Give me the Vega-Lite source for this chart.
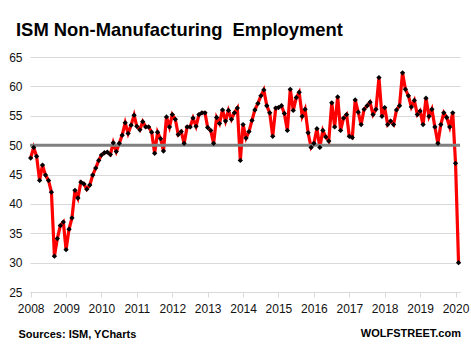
{
  "$schema": "https://vega.github.io/schema/vega-lite/v6.json",
  "width": 430,
  "height": 235,
  "autosize": {"type": "none"},
  "padding": {"left": 30, "top": 57, "right": 11, "bottom": 59},
  "background": "white",
  "title": {
    "text": "ISM Non-Manufacturing\u00a0 Employment",
    "anchor": "start",
    "frame": "group",
    "dx": -14,
    "offset": 12,
    "font": "Liberation Sans",
    "fontSize": 18.4,
    "fontWeight": "bold",
    "color": "#000000"
  },
  "config": {
    "view": {"stroke": null},
    "font": "Liberation Sans",
    "axisX": {
      "grid": false,
      "domainColor": "#d9d9d9",
      "tickColor": "#d9d9d9",
      "tickSize": 5,
      "labelPadding": 6,
      "labelFontSize": 12,
      "labelColor": "#111111",
      "labelFlush": false,
      "labelOverlap": false
    },
    "axisY": {
      "grid": true,
      "gridColor": "#d9d9d9",
      "domain": false,
      "ticks": false,
      "tickSize": 0,
      "labelPadding": 8,
      "labelFontSize": 12,
      "labelColor": "#111111",
      "labelOverlap": false
    }
  },
  "data": {
    "values": [
      {"month": "2008-03-01", "value": 47.8},
      {"month": "2008-04-01", "value": 49.6},
      {"month": "2008-05-01", "value": 48.1},
      {"month": "2008-06-01", "value": 44.0},
      {"month": "2008-07-01", "value": 46.6},
      {"month": "2008-08-01", "value": 44.9},
      {"month": "2008-09-01", "value": 44.0},
      {"month": "2008-10-01", "value": 42.0},
      {"month": "2008-11-01", "value": 31.1},
      {"month": "2008-12-01", "value": 34.1},
      {"month": "2009-01-01", "value": 36.3},
      {"month": "2009-02-01", "value": 36.9},
      {"month": "2009-03-01", "value": 32.2},
      {"month": "2009-04-01", "value": 35.7},
      {"month": "2009-05-01", "value": 37.6},
      {"month": "2009-06-01", "value": 42.3},
      {"month": "2009-07-01", "value": 41.0},
      {"month": "2009-08-01", "value": 43.7},
      {"month": "2009-09-01", "value": 43.4},
      {"month": "2009-10-01", "value": 42.5},
      {"month": "2009-11-01", "value": 43.2},
      {"month": "2009-12-01", "value": 44.9},
      {"month": "2010-01-01", "value": 46.1},
      {"month": "2010-02-01", "value": 47.4},
      {"month": "2010-03-01", "value": 48.3},
      {"month": "2010-04-01", "value": 48.7},
      {"month": "2010-05-01", "value": 48.8},
      {"month": "2010-06-01", "value": 48.4},
      {"month": "2010-07-01", "value": 50.4},
      {"month": "2010-08-01", "value": 48.9},
      {"month": "2010-09-01", "value": 50.3},
      {"month": "2010-10-01", "value": 51.7},
      {"month": "2010-11-01", "value": 53.8},
      {"month": "2010-12-01", "value": 52.0},
      {"month": "2011-01-01", "value": 53.4},
      {"month": "2011-02-01", "value": 55.1},
      {"month": "2011-03-01", "value": 53.2},
      {"month": "2011-04-01", "value": 52.6},
      {"month": "2011-05-01", "value": 54.0},
      {"month": "2011-06-01", "value": 53.1},
      {"month": "2011-07-01", "value": 53.1},
      {"month": "2011-08-01", "value": 52.2},
      {"month": "2011-09-01", "value": 48.6},
      {"month": "2011-10-01", "value": 52.2},
      {"month": "2011-11-01", "value": 51.1},
      {"month": "2011-12-01", "value": 49.0},
      {"month": "2012-01-01", "value": 54.8},
      {"month": "2012-02-01", "value": 53.1},
      {"month": "2012-03-01", "value": 55.2},
      {"month": "2012-04-01", "value": 54.4},
      {"month": "2012-05-01", "value": 51.8},
      {"month": "2012-06-01", "value": 52.3},
      {"month": "2012-07-01", "value": 50.3},
      {"month": "2012-08-01", "value": 53.1},
      {"month": "2012-09-01", "value": 53.1},
      {"month": "2012-10-01", "value": 54.6},
      {"month": "2012-11-01", "value": 53.2},
      {"month": "2012-12-01", "value": 55.2},
      {"month": "2013-01-01", "value": 55.5},
      {"month": "2013-02-01", "value": 55.5},
      {"month": "2013-03-01", "value": 53.0},
      {"month": "2013-04-01", "value": 52.5},
      {"month": "2013-05-01", "value": 50.3},
      {"month": "2013-06-01", "value": 54.7},
      {"month": "2013-07-01", "value": 53.7},
      {"month": "2013-08-01", "value": 56.0},
      {"month": "2013-09-01", "value": 54.1},
      {"month": "2013-10-01", "value": 55.9},
      {"month": "2013-11-01", "value": 54.4},
      {"month": "2013-12-01", "value": 55.5},
      {"month": "2014-01-01", "value": 56.3},
      {"month": "2014-02-01", "value": 47.4},
      {"month": "2014-03-01", "value": 53.5},
      {"month": "2014-04-01", "value": 51.2},
      {"month": "2014-05-01", "value": 52.3},
      {"month": "2014-06-01", "value": 54.2},
      {"month": "2014-07-01", "value": 56.0},
      {"month": "2014-08-01", "value": 57.1},
      {"month": "2014-09-01", "value": 58.4},
      {"month": "2014-10-01", "value": 59.4},
      {"month": "2014-11-01", "value": 56.7},
      {"month": "2014-12-01", "value": 55.5},
      {"month": "2015-01-01", "value": 51.5},
      {"month": "2015-02-01", "value": 56.3},
      {"month": "2015-03-01", "value": 56.4},
      {"month": "2015-04-01", "value": 56.7},
      {"month": "2015-05-01", "value": 55.4},
      {"month": "2015-06-01", "value": 52.5},
      {"month": "2015-07-01", "value": 59.5},
      {"month": "2015-08-01", "value": 55.9},
      {"month": "2015-09-01", "value": 58.1},
      {"month": "2015-10-01", "value": 59.0},
      {"month": "2015-11-01", "value": 54.9},
      {"month": "2015-12-01", "value": 56.1},
      {"month": "2016-01-01", "value": 52.1},
      {"month": "2016-02-01", "value": 49.6},
      {"month": "2016-03-01", "value": 50.3},
      {"month": "2016-04-01", "value": 52.8},
      {"month": "2016-05-01", "value": 49.6},
      {"month": "2016-06-01", "value": 52.5},
      {"month": "2016-07-01", "value": 51.4},
      {"month": "2016-08-01", "value": 50.7},
      {"month": "2016-09-01", "value": 57.2},
      {"month": "2016-10-01", "value": 53.1},
      {"month": "2016-11-01", "value": 58.2},
      {"month": "2016-12-01", "value": 52.5},
      {"month": "2017-01-01", "value": 54.6},
      {"month": "2017-02-01", "value": 55.2},
      {"month": "2017-03-01", "value": 51.5},
      {"month": "2017-04-01", "value": 51.3},
      {"month": "2017-05-01", "value": 57.7},
      {"month": "2017-06-01", "value": 55.6},
      {"month": "2017-07-01", "value": 53.5},
      {"month": "2017-08-01", "value": 56.1},
      {"month": "2017-09-01", "value": 56.7},
      {"month": "2017-10-01", "value": 57.3},
      {"month": "2017-11-01", "value": 55.2},
      {"month": "2017-12-01", "value": 56.1},
      {"month": "2018-01-01", "value": 61.5},
      {"month": "2018-02-01", "value": 54.9},
      {"month": "2018-03-01", "value": 56.4},
      {"month": "2018-04-01", "value": 53.5},
      {"month": "2018-05-01", "value": 54.1},
      {"month": "2018-06-01", "value": 53.5},
      {"month": "2018-07-01", "value": 56.0},
      {"month": "2018-08-01", "value": 56.7},
      {"month": "2018-09-01", "value": 62.3},
      {"month": "2018-10-01", "value": 59.5},
      {"month": "2018-11-01", "value": 58.4},
      {"month": "2018-12-01", "value": 56.5},
      {"month": "2019-01-01", "value": 57.6},
      {"month": "2019-02-01", "value": 55.2},
      {"month": "2019-03-01", "value": 55.8},
      {"month": "2019-04-01", "value": 53.5},
      {"month": "2019-05-01", "value": 58.0},
      {"month": "2019-06-01", "value": 54.9},
      {"month": "2019-07-01", "value": 56.1},
      {"month": "2019-08-01", "value": 53.1},
      {"month": "2019-09-01", "value": 50.3},
      {"month": "2019-10-01", "value": 53.5},
      {"month": "2019-11-01", "value": 55.5},
      {"month": "2019-12-01", "value": 54.7},
      {"month": "2020-01-01", "value": 53.1},
      {"month": "2020-02-01", "value": 55.5},
      {"month": "2020-03-01", "value": 46.9},
      {"month": "2020-04-01", "value": 30.0}
    ]
  },
  "layer": [
    {
      "mark": {"type": "line", "color": "#FF0000", "strokeWidth": 3.2},
      "encoding": {
        "x": {
          "field": "month",
          "type": "temporal",
          "scale": {"domain": ["2008-02-23", "2020-04-16"]},
          "axis": {
            "values": [
              {"year": 2008, "month": 3, "date": 1},
              {"year": 2009, "month": 3, "date": 1},
              {"year": 2010, "month": 3, "date": 1},
              {"year": 2011, "month": 3, "date": 1},
              {"year": 2012, "month": 3, "date": 1},
              {"year": 2013, "month": 3, "date": 1},
              {"year": 2014, "month": 3, "date": 1},
              {"year": 2015, "month": 3, "date": 1},
              {"year": 2016, "month": 3, "date": 1},
              {"year": 2017, "month": 3, "date": 1},
              {"year": 2018, "month": 3, "date": 1},
              {"year": 2019, "month": 3, "date": 1},
              {"year": 2020, "month": 3, "date": 1}
            ],
            "tickCount": 30,
            "format": "%Y",
            "labelOverlap": false,
            "title": "Sources: ISM, YCharts",
            "titleAnchor": "start",
            "titleAlign": "left",
            "titleBaseline": "middle",
            "titleX": -12,
            "titleY": 42,
            "titleFontSize": 11,
            "titleFontWeight": "bold",
            "titleColor": "#000000"
          }
        },
        "y": {
          "field": "value",
          "type": "quantitative",
          "scale": {"domain": [25, 65], "nice": false, "zero": false},
          "axis": {
            "values": [25, 30, 35, 40, 45, 50, 55, 60, 65],
            "tickCount": 20,
            "labelOverlap": false,
            "title": null
          }
        }
      }
    },
    {
      "data": {"values": [{"level": 50}]},
      "mark": {"type": "rule", "color": "#808080", "strokeWidth": 3},
      "encoding": {
        "y": {"field": "level", "type": "quantitative"}
      }
    },
    {
      "mark": {"type": "point", "shape": "diamond", "filled": true, "color": "#000000", "size": 28, "opacity": 1},
      "encoding": {
        "x": {"field": "month", "type": "temporal"},
        "y": {"field": "value", "type": "quantitative"}
      }
    },
    {
      "data": {"values": [{"label": "WOLFSTREET.com"}]},
      "mark": {"type": "text", "align": "right", "baseline": "middle", "fontSize": 11, "fontWeight": "bold", "color": "#000000", "dx": 1},
      "encoding": {
        "text": {"field": "label", "type": "nominal"},
        "x": {"datum": {"year": 2020, "month": 4, "date": 16}, "type": "temporal"},
        "y": {"datum": 17.85, "type": "quantitative"}
      }
    }
  ]
}
